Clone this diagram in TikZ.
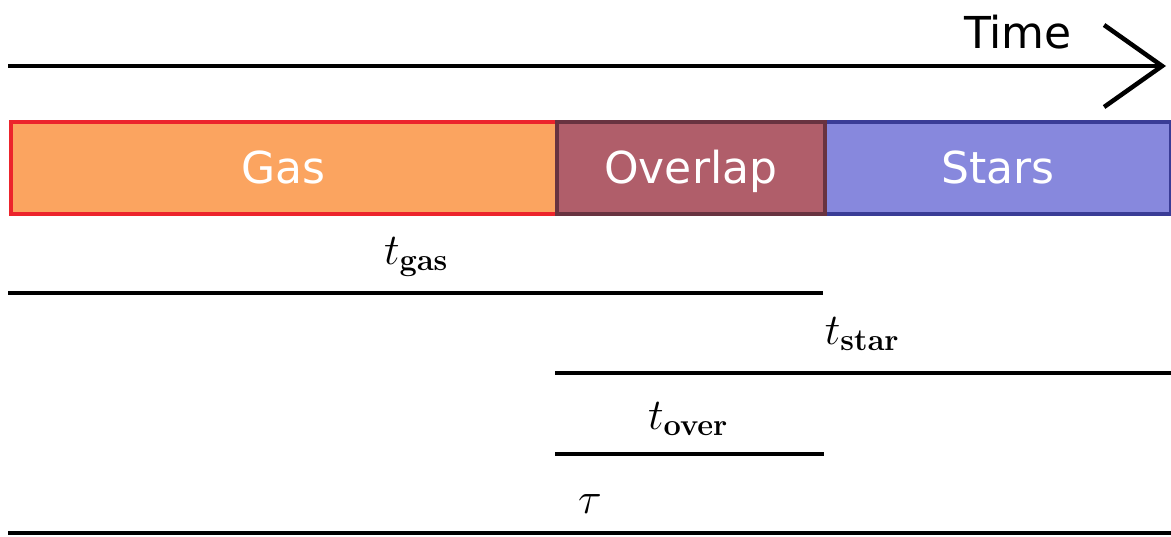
\RequirePackage{fix-cm}
\documentclass[tikz,border=0pt]{standalone}
\usepackage[no-math]{fontspec}
\setmainfont{DejaVu Sans}
\usetikzlibrary{positioning,arrows.meta}
\definecolor{gasclr}{RGB}{251,164,96}
\definecolor{gasedge}{RGB}{236,36,44}
\definecolor{overclr}{RGB}{176,94,106}
\definecolor{overedge}{RGB}{104,51,64}
\definecolor{starclr}{RGB}{135,136,221}
\definecolor{staredge}{RGB}{58,60,150}
\tikzset{ %
  ,every node/.style={font=\fontsize{44}{50}\selectfont}
  ,phase/.style={draw, line width=3.5pt, minimum height=92pt, inner sep=0, anchor=north west, text=white, text height=38pt, text depth=6pt}
  ,span/.style={line width=4.5pt}
  ,lbl/.style={inner sep=0, anchor=base}
}
\begin{document}
\begin{tikzpicture}[x=1pt, y=-1pt]
  \useasboundingbox (0,0) rectangle (1171,536);
  % time axis
  \coordinate (t0) at (8,66);
  \coordinate (t1) at (1166,66);
  \draw[span, -{Straight Barb[length=58pt, width=82pt]}] (t0) -- (t1);
  \node[lbl] (time) at (1018,48) {Time};
  % phases
  \node[phase, fill=gasclr, draw=gasedge, minimum width=546pt] (gas) at (9,120) {Gas};
  \node[phase, fill=starclr, draw=staredge, minimum width=346pt] (stars) at (823,120) {Stars};
  \node[phase, fill=overclr, draw=overedge, minimum width=268pt] (over) at (555,120) {Overlap};
  % durations
  \coordinate (g0) at (8,293);   \coordinate (g1) at (823,293);
  \coordinate (s0) at (555,373); \coordinate (s1) at (1171,373);
  \coordinate (o0) at (555,454); \coordinate (o1) at (824,454);
  \coordinate (a0) at (8,533);   \coordinate (a1) at (1171,533);
  \draw[span] (g0) -- (g1) (s0) -- (s1) (o0) -- (o1) (a0) -- (a1);
  \node[lbl] (tgas) at (416,264) {$t_{\mathbf{gas}}$};
  \node[lbl] (tstar) at (862,344) {$t_{\mathbf{star}}$};
  \node[lbl] (tover) at (688,429) {$t_{\mathbf{over}}$};
  \node[lbl] (tau) at (590,513) {$\tau$};
\end{tikzpicture}
\end{document}
